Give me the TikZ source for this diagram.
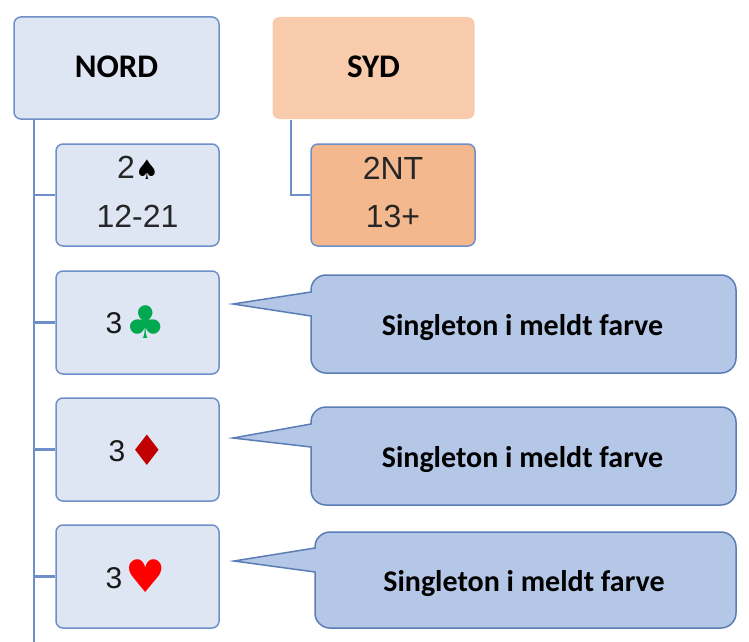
\documentclass[tikz,border=0pt]{standalone}
\usepackage{fontspec}
\setmainfont{Liberation Sans}
\newfontfamily\labelfont{Carlito}
\newfontfamily\suitfont{DejaVu Sans}
\definecolor{boxfill}{HTML}{DEE6F3}
\definecolor{boxline}{HTML}{6E8FC9}
\definecolor{sydfill}{HTML}{F7CBAC}
\definecolor{ntfill}{HTML}{F4B88E}
\definecolor{callfill}{HTML}{B4C7E7}
\definecolor{callline}{HTML}{5B7DB5}
\definecolor{clubgreen}{HTML}{00A84F}
\definecolor{diamred}{HTML}{C00000}
\definecolor{heartred}{HTML}{FF0000}
\tikzset{
  x=1pt,y=-1pt,
  card/.style={draw=boxline,line width=1.5pt,fill=boxfill,rounded corners=7pt,inner sep=0pt,align=center,text=black},
  head/.style={card,font=\labelfont\bfseries\fontsize{33}{36}\selectfont},
  num/.style={inner sep=0pt,text=black!85,font=\fontsize{32}{49}\selectfont},
  three/.style={inner sep=0pt,text=black!90,font=\fontsize{30}{30}\selectfont},
  connector/.style={draw=boxline,line width=2.3pt},
  balloon/.style={draw=callline,line width=1.5pt,fill=callfill,line join=miter},
  balloontext/.style={inner sep=0pt,text=black,font=\labelfont\bfseries\fontsize{30}{32}\selectfont},
  suit/.style={inner sep=0pt,font=\suitfont\fontsize{45}{45}\selectfont}
}
% #1 left, #2 top, #3 right, #4 bottom, #5 tip x, #6 tip y, #7 base top, #8 base bottom
\newcommand{\balloonshape}[8]{%
  \draw[balloon] (#5,#6) -- (#1,#7)
    [rounded corners=15pt] -- (#1,#2) -- (#3,#2) -- (#3,#4) -- (#1,#4)
    [sharp corners] -- (#1,#8) -- cycle;}
\begin{document}
\begin{tikzpicture}
\useasboundingbox (0,0) rectangle (749,642);
\coordinate (trunkend) at (34,642);
\coordinate (sydelbow) at (291,195);

\node[head,minimum width=205pt,minimum height=102pt] (nord) at (116.5,68) {\raisebox{2pt}{NORD}};
\node[head,draw=none,fill=sydfill,minimum width=202pt,minimum height=102pt] (syd) at (373.5,68) {\raisebox{2pt}{SYD}};
\node[card,minimum width=163pt,minimum height=102pt] (n1) at (137.5,195) {};
\node[card,fill=ntfill,minimum width=164pt,minimum height=102pt] (s1) at (393,195) {};
\node[card,minimum width=163pt,minimum height=103pt] (n2) at (137.5,322.5) {};
\node[card,minimum width=163pt,minimum height=103pt] (n3) at (137.5,449.5) {};
\node[card,minimum width=163pt,minimum height=103pt] (n4) at (137.5,576.5) {};

\node[num] (t2a) at (126,167) {2};
\node[suit,font=\suitfont\fontsize{27}{27}\selectfont] (t2b) at (147,170) {♠};
\node[num] (t2c) at (137.5,216) {12-21};
\node[num] (t3a) at (393,168) {2NT};
\node[num] (t3b) at (393,216) {13+};

\node[three] (c3) at (114,323) {3};
\node[suit,text=clubgreen] (c) at (146,322) {♣};
\node[three] (d3) at (117,451) {3};
\node[suit,text=diamred,font=\suitfont\fontsize{42}{42}\selectfont] (d) at (147,450) {♦};
\node[three] (h3) at (114,578) {3};
\node[suit,text=heartred] (h) at (146,576) {♥};

\draw[connector] (trunkend |- nord.south) -- (trunkend);
\draw[connector] (trunkend |- n1.west) -- (n1.west);
\draw[connector] (trunkend |- n2.west) -- (n2.west);
\draw[connector] (trunkend |- n3.west) -- (n3.west);
\draw[connector] (trunkend |- n4.west) -- (n4.west);
\draw[connector] (sydelbow |- syd.south) -- (sydelbow) -- (s1.west);

\balloonshape{311}{275}{736}{373}{233}{304}{292}{316}
\balloonshape{311}{407}{736}{505}{233}{438}{424}{447}
\balloonshape{315}{532}{736}{628}{234}{561}{548}{572}
\node[balloontext] (b1) at (522.5,328) {Singleton i meldt farve};
\node[balloontext] (b2) at (522.5,460) {Singleton i meldt farve};
\node[balloontext] (b3) at (524,584) {Singleton i meldt farve};
\end{tikzpicture}
\end{document}
